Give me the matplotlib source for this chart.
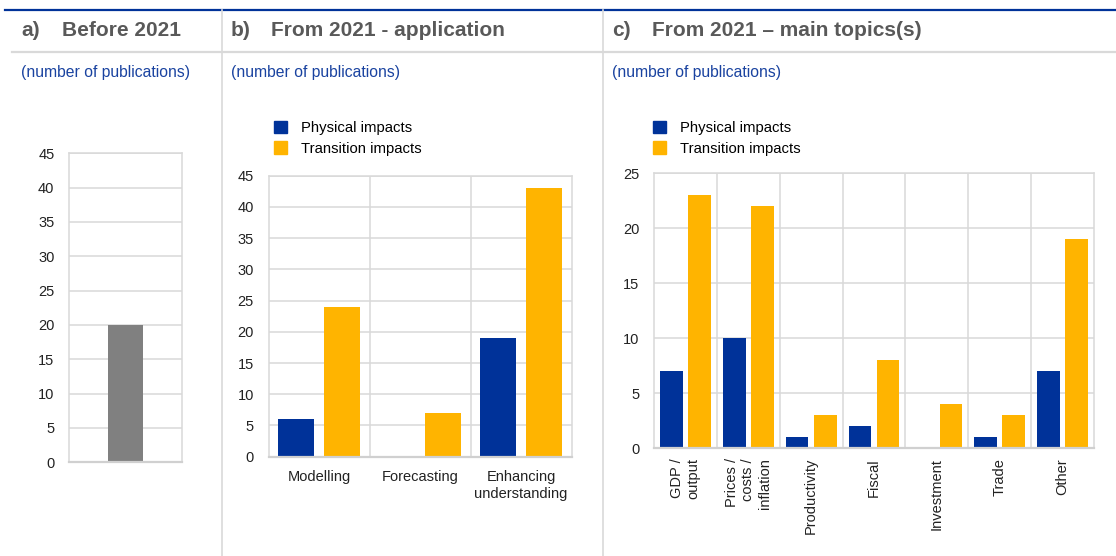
import matplotlib
matplotlib.use("Agg")
import matplotlib.pyplot as plt
from matplotlib.lines import Line2D
from matplotlib.patches import Patch
import numpy as np

plt.rcParams['font.family'] = ['Liberation Sans', 'DejaVu Sans']

# ---------------- data ----------------
a_values = [20]

b_categories = ["Modelling", "Forecasting", "Enhancing\nunderstanding"]
b_physical = [6, 0, 19]
b_transition = [24, 7, 43]

c_categories = ["GDP /\noutput", "Prices /\ncosts /\ninflation", "Productivity",
                "Fiscal", "Investment", "Trade", "Other"]
c_physical = [7, 10, 1, 2, 0, 1, 7]
c_transition = [23, 22, 3, 8, 4, 3, 19]

titles = [("a)", "Before 2021"), ("b)", "From 2021 - application"),
          ("c)", "From 2021 \u2013 main topics(s)")]
subtitle = "(number of publications)"
series_labels = ["Physical impacts", "Transition impacts"]

# ---------------- style ----------------
BLUE = "#003299"
ORANGE = "#FFB400"
GREY_BAR = "#808080"
GRID = "#d9d9d9"
TITLE_C = "#595959"
SUB_C = "#1a43a0"

W, H = 1116, 556
fig = plt.figure(figsize=(W / 100, H / 100), dpi=100)


def fx(x):
    return x / W


def fy(y):
    return 1 - y / H


def add_ax(left, right, top, bottom):
    return fig.add_axes([fx(left), fy(bottom), (right - left) / W, (bottom - top) / H])


def style_ax(ax, ymax, step):
    ax.set_ylim(0, ymax)
    ax.set_yticks(np.arange(0, ymax + 0.1, step))
    ax.yaxis.grid(True, color=GRID, lw=1.1)
    ax.set_axisbelow(True)
    for s in ax.spines.values():
        s.set_color(GRID)
        s.set_linewidth(1.1)
    ax.spines['bottom'].set_color("#d0d0d0")
    ax.spines['bottom'].set_linewidth(1.6)
    ax.tick_params(axis='y', length=0, pad=10.5, labelsize=10.5, labelcolor="#222222")
    ax.tick_params(axis='x', length=0, labelsize=10.5, labelcolor="#222222")


# ---------------- header decorations ----------------
fig.add_artist(Line2D([fx(5), fx(1116)], [fy(10), fy(10)], color=BLUE, lw=1.6))
fig.add_artist(Line2D([fx(12), fx(1116)], [fy(52), fy(52)], color=GRID, lw=1.6))
for xv in (222, 603):
    fig.add_artist(Line2D([fx(xv), fx(xv)], [fy(10), fy(556)], color=GRID, lw=1.2))

title_x = [(21, 62), (231, 271), (612, 652)]
for (lab, ttl), (x1, x2) in zip(titles, title_x):
    fig.text(fx(x1), fy(31), lab, fontsize=15, fontweight='bold', color=TITLE_C, va='center', ha='left')
    fig.text(fx(x2), fy(31), ttl, fontsize=15, fontweight='bold', color=TITLE_C, va='center', ha='left')
    fig.text(fx(x1), fy(72.5), subtitle, fontsize=11.3, color=SUB_C, va='center', ha='left')

# ---------------- panel a ----------------
axa = add_ax(69, 182.3, 153.3, 462.3)
axa.bar([0], a_values, width=0.306, color=GREY_BAR)
axa.set_xlim(-0.5, 0.5)
axa.set_xticks([])
style_ax(axa, 45, 5)

# ---------------- panel b ----------------
axb = add_ax(268.5, 571.5, 175.7, 456.7)
xb = np.arange(len(b_categories))
axb.bar(xb - 0.23, b_physical, width=0.353, color=BLUE, label=series_labels[0])
axb.bar(xb + 0.23, b_transition, width=0.353, color=ORANGE, label=series_labels[1])
axb.set_xlim(-0.5, len(b_categories) - 0.5)
style_ax(axb, 45, 5)
axb.set_xticks(xb)
axb.set_xticklabels(b_categories, linespacing=1.25)
axb.tick_params(axis='x', pad=9.5)
axb.set_xticks(xb[:-1] + 0.5, minor=True)
axb.tick_params(axis='x', which='minor', length=0)
axb.xaxis.grid(True, which='minor', color=GRID, lw=1.1)
axb.xaxis.grid(False, which='major')

# ---------------- panel c ----------------
axc = add_ax(654, 1094, 173.3, 448.3)
xc = np.arange(len(c_categories))
axc.bar(xc - 0.224, c_physical, width=0.36, color=BLUE, label=series_labels[0])
axc.bar(xc + 0.224, c_transition, width=0.36, color=ORANGE, label=series_labels[1])
axc.set_xlim(-0.5, len(c_categories) - 0.5)
style_ax(axc, 25, 5)
axc.set_xticks(xc)
axc.set_xticklabels(c_categories, rotation=90, va='top', ha='center',
                    multialignment='right', linespacing=1.25)
axc.tick_params(axis='x', pad=7)
axc.set_xticks(xc[:-1] + 0.5, minor=True)
axc.tick_params(axis='x', which='minor', length=0)
axc.xaxis.grid(True, which='minor', color=GRID, lw=1.1)
axc.xaxis.grid(False, which='major')

# ---------------- legends ----------------
handles = [Patch(color=BLUE), Patch(color=ORANGE)]
for ax, (lx, ly) in ((axb, (274, 120.5)), (axc, (653, 120.5))):
    ax.legend(handles, series_labels, loc='upper left',
              bbox_to_anchor=(fx(lx), fy(ly)), bbox_transform=fig.transFigure,
              frameon=False, fontsize=10.7, handlelength=0.85, handleheight=0.9,
              handletextpad=0.95, labelspacing=0.45, borderpad=0, borderaxespad=0)

fig.savefig("out.png", dpi=100)
